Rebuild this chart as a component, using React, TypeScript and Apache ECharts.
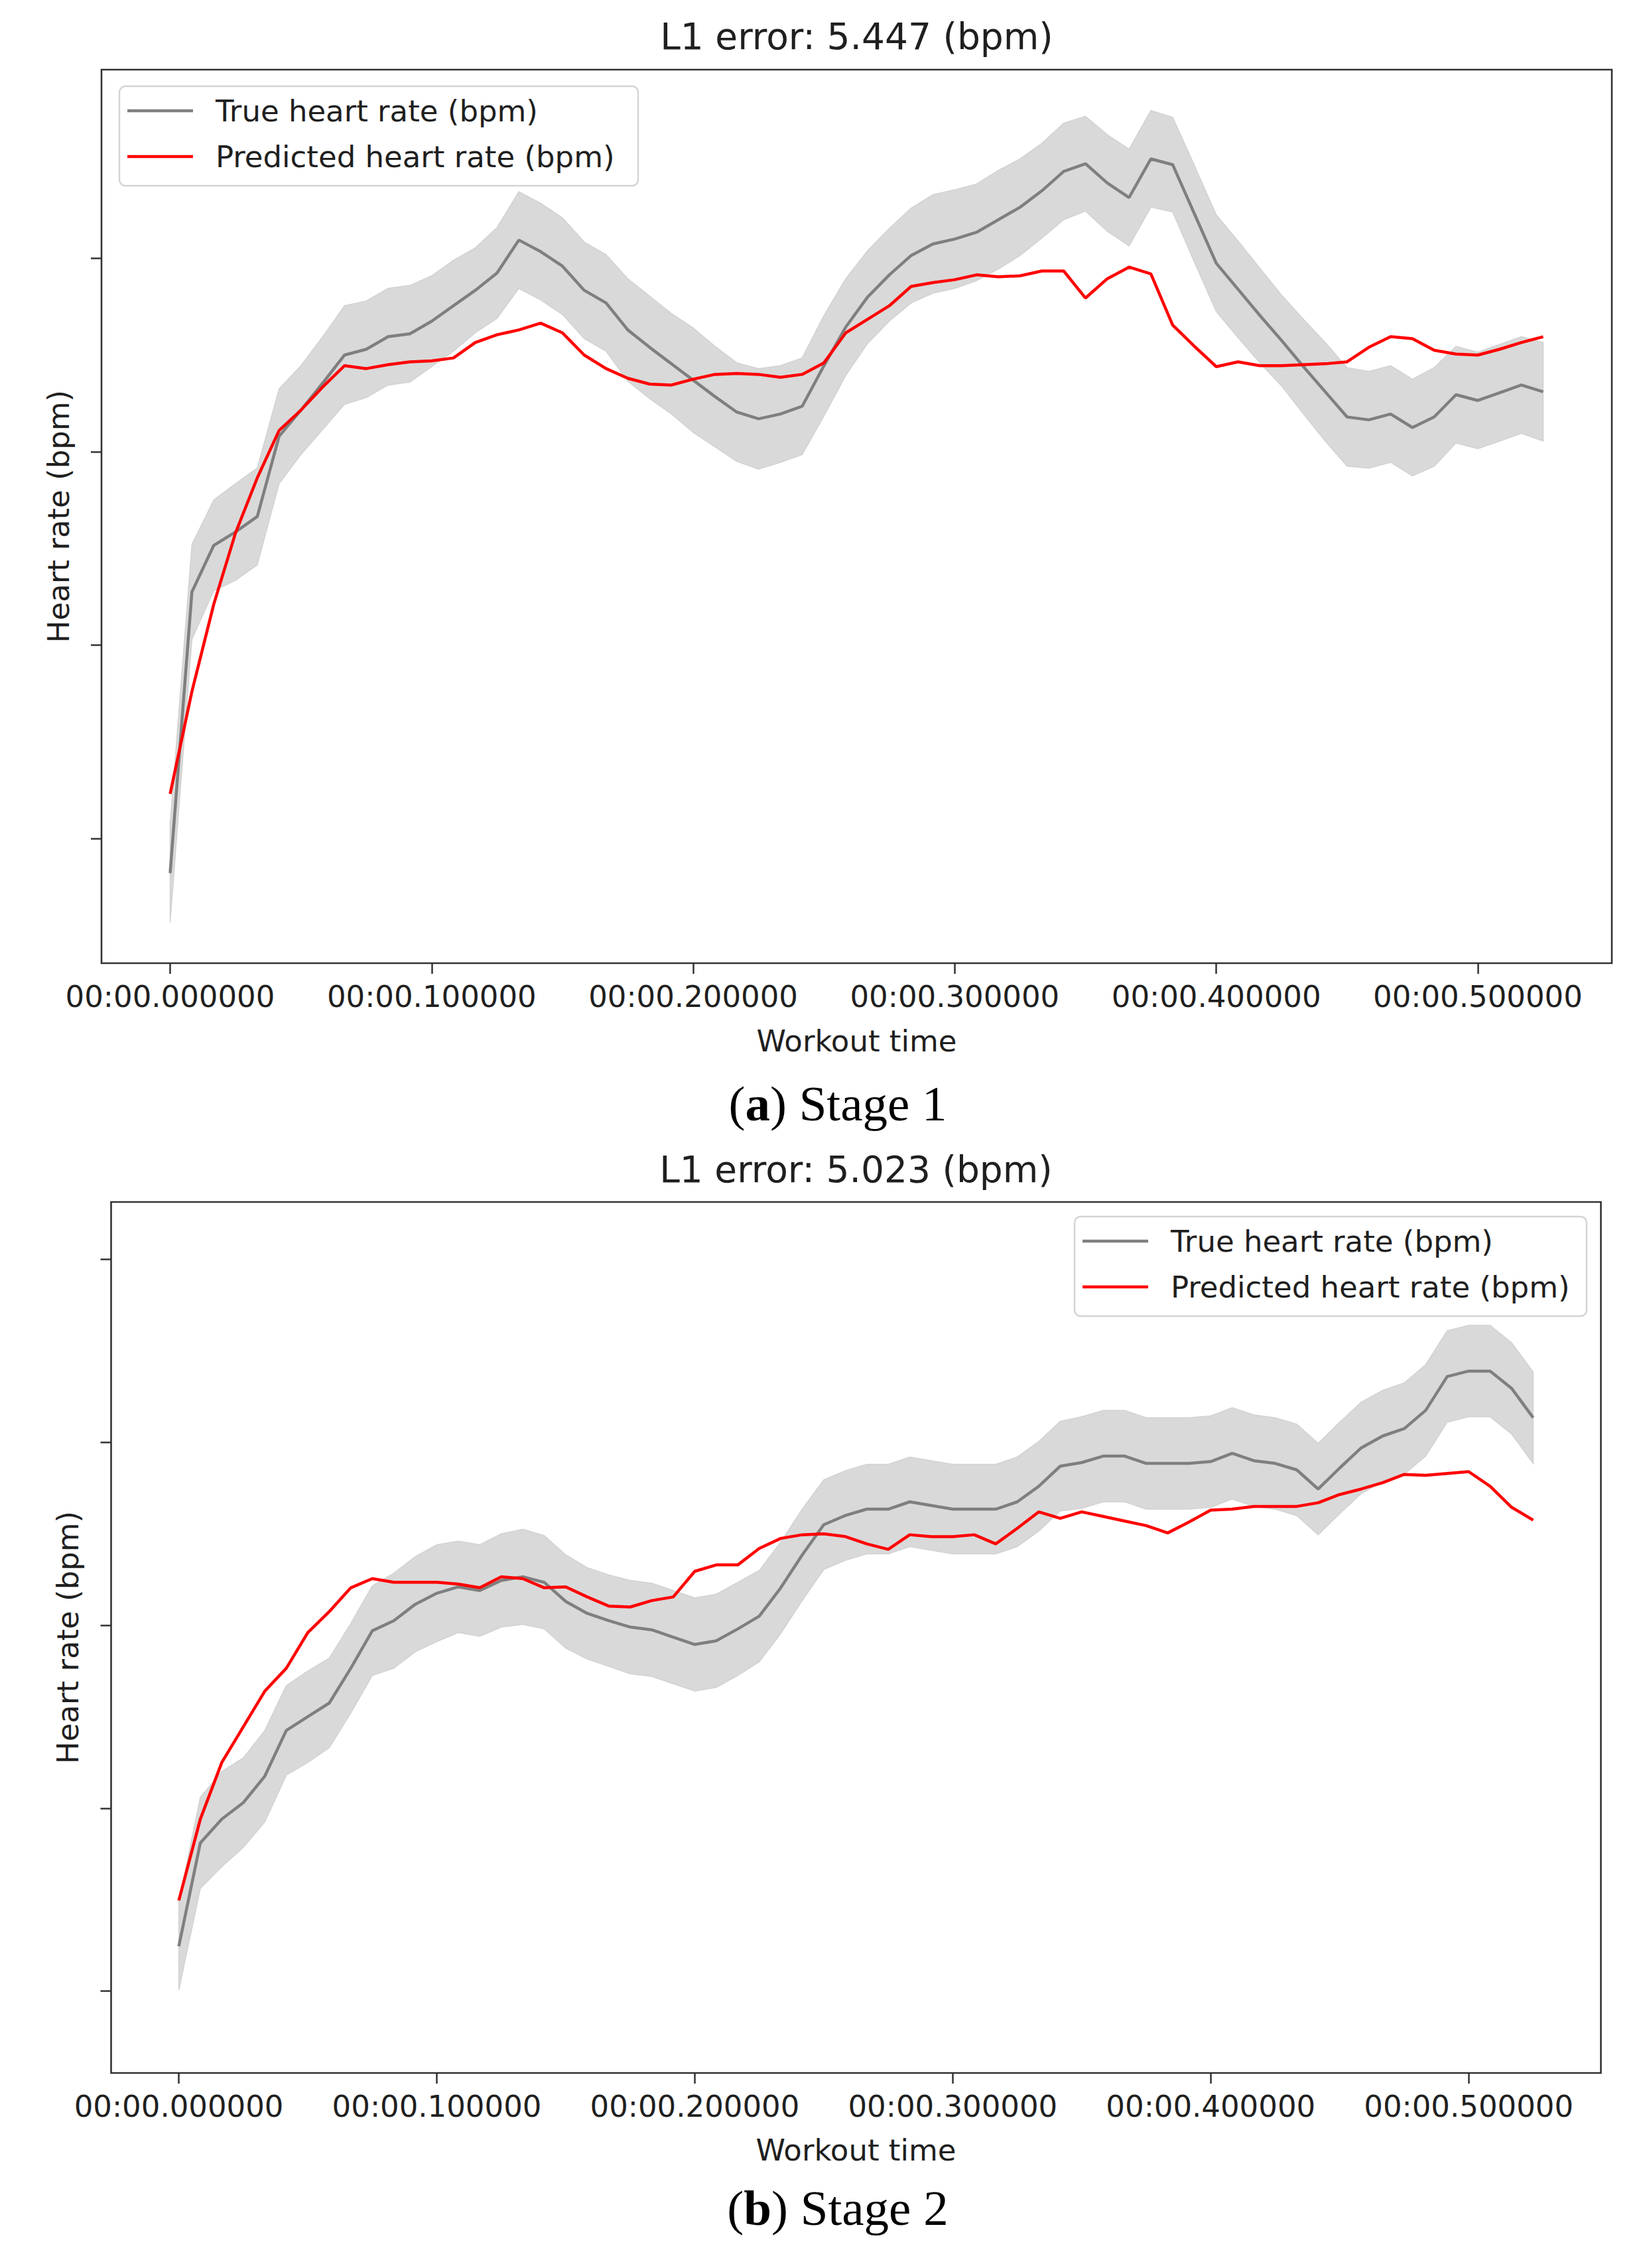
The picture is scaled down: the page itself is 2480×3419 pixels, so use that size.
import React, { useEffect, useRef } from 'react';
import * as echarts from 'echarts';

// samples are 1/120 s apart; x positions are sample numbers
const sampleIdx = [
  0, 1, 2, 3, 4, 5, 6, 7, 8, 9, 10, 11, 12, 13, 14, 15, 16, 17, 18, 19, 20, 21,
  22, 23, 24, 25, 26, 27, 28, 29, 30, 31, 32, 33, 34, 35, 36, 37, 38, 39, 40, 41,
  42, 43, 44, 45, 46, 47, 48, 49, 50, 51, 52, 53, 54, 55, 56, 57, 58, 59, 60, 61,
  62, 63,
];
const timeTicks = [0, 12, 24, 36, 48, 60];
const timeLabels = [
  '00:00.000000',
  '00:00.100000',
  '00:00.200000',
  '00:00.300000',
  '00:00.400000',
  '00:00.500000',
];

// Stage 1
const stage1True = [
  96.4, 125.5, 130.3, 131.7, 133.3, 141.6, 144.3, 147.1, 150.0, 150.6,
  151.9, 152.2, 153.5, 155.1, 156.7, 158.5, 161.9, 160.7, 159.2, 156.7,
  155.4, 152.6, 150.8, 149.1, 147.4, 145.7, 144.1, 143.4, 143.9, 144.7,
  148.9, 152.9, 156.0, 158.3, 160.3, 161.5, 162.0, 162.7, 164.0, 165.3,
  167.0, 169.0, 169.8, 167.8, 166.3, 170.3, 169.7, 164.6, 159.5, 156.8,
  154.1, 151.5, 148.8, 146.2, 143.6, 143.3, 143.9, 142.5, 143.6, 145.9,
  145.3, 146.1, 146.9, 146.2,
];
const stage1Std = [
  5.1, 4.9, 4.7, 5.0, 5.0, 4.9, 4.6, 4.8, 5.1, 5.0,
  5.0, 5.0, 4.7, 4.7, 4.4, 4.7, 5.0, 5.0, 5.0, 5.0,
  5.0, 5.3, 5.3, 5.2, 5.4, 5.2, 5.1, 5.2, 5.0, 5.0,
  5.2, 5.0, 4.8, 4.8, 4.9, 5.1, 5.1, 5.0, 5.1, 5.0,
  4.9, 5.0, 4.9, 5.0, 5.0, 5.0, 4.9, 5.0, 5.0, 5.0,
  4.9, 4.7, 4.9, 5.1, 5.1, 5.0, 5.0, 5.0, 5.1, 5.0,
  5.0, 5.0, 5.0, 5.1,
];
const stage1Pred = [
  104.6, 115.2, 124.2, 131.6, 137.3, 142.2, 144.3, 146.7, 148.9, 148.6,
  149.0, 149.3, 149.4, 149.7, 151.3, 152.1, 152.6, 153.3, 152.3, 150.0,
  148.6, 147.6, 147.0, 146.9, 147.5, 148.0, 148.1, 148.0, 147.7, 148.0,
  149.2, 152.3, 153.7, 155.1, 157.1, 157.5, 157.8, 158.3, 158.1, 158.2,
  158.7, 158.7, 155.9, 157.9, 159.1, 158.4, 153.1, 150.9, 148.8, 149.3,
  148.9, 148.9, 149.0, 149.1, 149.3, 150.8, 151.9, 151.7, 150.5, 150.1,
  150.0, 150.6, 151.3, 151.9,
];
const stage1YTicks = [100, 120, 140, 160];

// Stage 2
const stage2True = [
  104.9, 116.2, 118.8, 120.6, 123.5, 128.5, 130.0, 131.5, 135.3, 139.4,
  140.5, 142.3, 143.5, 144.2, 143.8, 144.9, 145.3, 144.7, 142.6, 141.3,
  140.5, 139.8, 139.5, 138.7, 137.9, 138.3, 139.6, 141.0, 144.1, 147.7,
  151.0, 152.0, 152.7, 152.7, 153.5, 153.1, 152.7, 152.7, 152.7, 153.5,
  155.2, 157.4, 157.8, 158.5, 158.5, 157.7, 157.7, 157.7, 157.9, 158.8,
  158.0, 157.7, 157.0, 154.9, 157.2, 159.4, 160.7, 161.5, 163.5, 167.2,
  167.8, 167.8, 165.9, 162.7,
];
const stage2Std = [
  4.8, 5.0, 5.2, 4.9, 5.0, 4.9, 5.0, 4.9, 4.9, 4.9,
  5.2, 5.2, 5.3, 5.0, 5.0, 5.1, 5.2, 5.1, 5.1, 5.0,
  5.0, 5.1, 5.1, 5.1, 5.1, 5.1, 5.1, 5.0, 5.0, 5.0,
  4.9, 4.9, 4.9, 4.9, 4.9, 4.9, 4.9, 4.9, 4.9, 4.9,
  4.9, 4.9, 5.0, 5.0, 5.0, 5.0, 5.0, 5.0, 5.0, 5.0,
  5.0, 5.0, 5.0, 5.0, 5.0, 5.0, 5.0, 5.0, 5.0, 5.0,
  5.0, 5.0, 5.0, 5.0,
];
const stage2Pred = [
  109.9, 118.8, 125.0, 128.9, 132.8, 135.3, 139.2, 141.5, 144.1, 145.1,
  144.7, 144.7, 144.7, 144.5, 144.1, 145.3, 145.1, 144.1, 144.2, 143.1,
  142.1, 142.0, 142.7, 143.1, 145.9, 146.6, 146.6, 148.4, 149.5, 149.9,
  150.0, 149.7, 148.9, 148.3, 149.9, 149.7, 149.7, 149.9, 148.9, 150.6,
  152.4, 151.7, 152.4, 151.9, 151.4, 150.9, 150.1, 151.3, 152.6, 152.7,
  153.0, 153.0, 153.0, 153.4, 154.3, 154.9, 155.6, 156.5, 156.4, 156.6,
  156.8, 155.2, 152.9, 151.5,
];
const stage2YTicks = [100, 120, 140, 160, 180];

const SANS = "'DejaVu Sans', 'Noto Sans', sans-serif";
const SERIF = "'Liberation Serif', 'DejaVu Serif', serif";
const INK = '#1f1f1f';
const FRAME = '#333333';

const panels = [
  {
    title: 'L1 error: 5.447 (bpm)',
    caption: '({b|a}) Stage 1',
    grid: { left: 153, top: 105, width: 2277, height: 1347 },
    yMin: 87.08,
    yMax: 179.53,
    yTicks: stage1YTicks,
    trueHr: stage1True,
    std: stage1Std,
    pred: stage1Pred,
    titleY: 55,
    labelNameY: 1569,
    captionY: 1663,
    yNameX: 88,
    legend: { x: 180, y: 130, w: 782 },
  },
  {
    title: 'L1 error: 5.023 (bpm)',
    caption: '({b|b}) Stage 2',
    grid: { left: 167.5, top: 1812, width: 2246, height: 1313 },
    yMin: 91.04,
    yMax: 186.29,
    yTicks: stage2YTicks,
    trueHr: stage2True,
    std: stage2Std,
    pred: stage2Pred,
    titleY: 1763,
    labelNameY: 3241,
    captionY: 3328,
    yNameX: 102,
    legend: { x: 1620, y: 1834, w: 772 },
  },
];

const text = (
  x: number,
  y: number,
  str: string,
  size: number,
  extra: Record<string, unknown> = {},
  align = 'center'
) => ({
  type: 'text',
  x,
  y,
  z: 100,
  ...extra,
  style: {
    text: str,
    fontSize: size,
    fontFamily: SANS,
    fill: INK,
    textAlign: align,
    textVerticalAlign: 'middle',
    align,
    verticalAlign: 'middle',
  },
});

const App: React.FC = () => {
  const chartRef = useRef<HTMLDivElement>(null);

  useEffect(() => {
    if (!chartRef.current) return;
    document.body.style.margin = '0';
    document.body.style.overflow = 'hidden';

    const chart = echarts.init(chartRef.current, undefined, { renderer: 'svg' });

    const grids: any[] = [];
    const xAxes: any[] = [];
    const yAxes: any[] = [];
    const series: any[] = [];
    const graphics: any[] = [];

    panels.forEach((p, gi) => {
      grids.push({
        ...p.grid,
        show: true,
        borderColor: FRAME,
        borderWidth: 2.6,
        backgroundColor: 'transparent',
        containLabel: false,
      });
      xAxes.push({
        type: 'value',
        gridIndex: gi,
        min: -3.15,
        max: 66.15,
        axisLine: { show: false, onZero: false },
        splitLine: { show: false },
        axisTick: {
          show: true,
          customValues: timeTicks,
          length: 16,
          lineStyle: { color: FRAME, width: 2.5 },
        },
        axisLabel: {
          show: true,
          customValues: timeTicks,
          margin: 28,
          fontSize: 45,
          fontFamily: SANS,
          color: INK,
          formatter: (v: number) => timeLabels[timeTicks.indexOf(Math.round(v))] ?? '',
        },
      });
      yAxes.push({
        type: 'value',
        gridIndex: gi,
        position: 'left',
        min: p.yMin,
        max: p.yMax,
        axisLine: { show: false, onZero: false },
        splitLine: { show: false },
        axisLabel: { show: false, customValues: p.yTicks },
        axisTick: {
          show: true,
          inside: false,
          customValues: p.yTicks,
          length: 16,
          lineStyle: { color: FRAME, width: 2.5 },
        },
      });

      const lo = p.trueHr.map((v, i) => v - p.std[i]);
      const hi = p.trueHr.map((v, i) => v + p.std[i]);
      series.push(
        {
          // ±std band, one polygon through the axis scales
          type: 'custom',
          xAxisIndex: gi,
          yAxisIndex: gi,
          silent: true,
          clip: true,
          data: sampleIdx.map((i) => [i, lo[i], hi[i]]),
          encode: { x: 0, y: [1, 2] },
          renderItem: (params: any, api: any) => {
            if (params.dataIndex !== 0) return null;
            const upper = sampleIdx.map((i) => api.coord([i, hi[i]]));
            const lower = sampleIdx.map((i) => api.coord([i, lo[i]])).reverse();
            return {
              type: 'polygon',
              shape: { points: upper.concat(lower) },
              style: { fill: '#d9d9d9', stroke: '#d2d2d2', lineWidth: 1.5 },
            };
          },
          z: 1,
        },
        {
          type: 'line',
          name: 'True heart rate (bpm)',
          xAxisIndex: gi,
          yAxisIndex: gi,
          symbol: 'none',
          lineStyle: { color: '#7f7f7f', width: 4.5 },
          data: sampleIdx.map((i) => [i, p.trueHr[i]]),
          z: 3,
        },
        {
          type: 'line',
          name: 'Predicted heart rate (bpm)',
          xAxisIndex: gi,
          yAxisIndex: gi,
          symbol: 'none',
          lineStyle: { color: '#ff0000', width: 4.5 },
          data: sampleIdx.map((i) => [i, p.pred[i]]),
          z: 4,
        }
      );

      const cx = p.grid.left + p.grid.width / 2;
      const cy = p.grid.top + p.grid.height / 2;
      graphics.push(text(cx, p.titleY, p.title, 55));
      graphics.push(text(cx, p.labelNameY, 'Workout time', 45));
      graphics.push(text(p.yNameX, cy, 'Heart rate (bpm)', 45, { rotation: Math.PI / 2 }));
      graphics.push({
        type: 'text',
        x: 1263,
        y: p.captionY,
        z: 100,
        style: {
          text: p.caption,
          fontSize: 75,
          fontFamily: SERIF,
          fill: '#000',
          textAlign: 'center',
          textVerticalAlign: 'middle',
          align: 'center',
          verticalAlign: 'middle',
          rich: {
            b: { fontSize: 75, fontFamily: SERIF, fontWeight: 'bold', fill: '#000' },
          },
        },
      });

      const L = p.legend;
      graphics.push({
        type: 'rect',
        z: 90,
        shape: { x: L.x, y: L.y, width: L.w, height: 150, r: 9 },
        style: { fill: 'rgba(255,255,255,0.8)', stroke: '#d4d4d4', lineWidth: 2.5 },
      });
      [
        { color: '#7f7f7f', label: 'True heart rate (bpm)', dy: 37 },
        { color: '#ff0000', label: 'Predicted heart rate (bpm)', dy: 106 },
      ].forEach((item) => {
        graphics.push({
          type: 'line',
          z: 95,
          shape: { x1: L.x + 12, y1: L.y + item.dy, x2: L.x + 111, y2: L.y + item.dy },
          style: { stroke: item.color, lineWidth: 4.5 },
        });
        graphics.push(text(L.x + 145, L.y + item.dy, item.label, 45, {}, 'left'));
      });
    });

    chart.setOption({
      animation: false,
      backgroundColor: '#ffffff',
      grid: grids,
      xAxis: xAxes,
      yAxis: yAxes,
      series,
      graphic: { elements: graphics },
    });

    const handleResize = () => {
      chart.resize();
    };
    window.addEventListener('resize', handleResize);

    return () => {
      chart.dispose();
      window.removeEventListener('resize', handleResize);
    };
  }, []);

  return (
    <div
      ref={chartRef}
      style={{ position: 'absolute', left: 0, top: 0, width: '2480px', height: '3419px' }}
    />
  );
};

export default App;
